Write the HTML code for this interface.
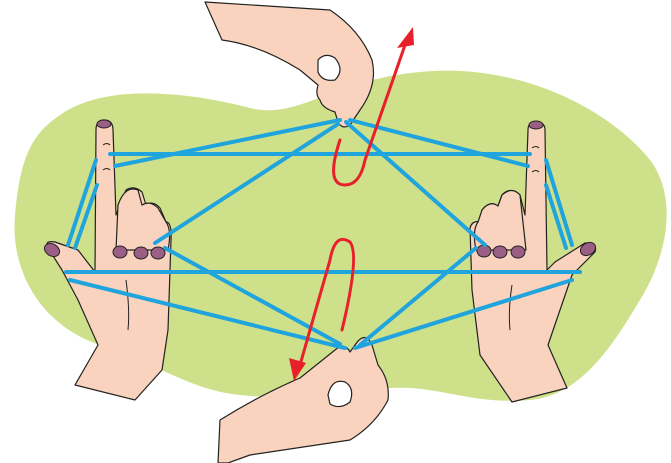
<!DOCTYPE html>
<html><head><meta charset="utf-8"><style>html,body{margin:0;padding:0;background:#fff}svg{display:block}</style></head>
<body>
<svg width="671" height="463" viewBox="0 0 671 463" xmlns="http://www.w3.org/2000/svg">
<path d="M60,115 C110,80 200,95 250,108 C300,120 330,80 420,72 C520,62 610,110 650,160 C680,200 665,260 640,300 C610,350 580,395 530,400 C470,405 440,385 390,388 C330,392 280,400 240,395 C190,390 160,365 100,345 C40,325 10,270 15,215 C20,160 30,135 60,115 Z" fill="#cfe08a"/>

<g stroke="#222" stroke-width="1.2" fill="#f9d3bd" stroke-linejoin="round">
<!-- left hand -->
<path d="M96,130 Q96,120 104,120 Q113,120 113,130 L116,215 L126,190 Q134,185 142,192 L146,205 Q153,200 160,208 L166,222 Q172,222 171,240 L168,330 L162,370 L135,400 L75,385 L98,345 L78,300 L62,270 L48,248 Q44,240 55,242 L78,250 L95,272 Z"/>
<path d="M116,250 L118,205 Q125,185 138,190 L142,205 Q150,200 158,208 L166,222 Q172,230 168,250 Z"/>
<!-- right hand -->
<path d="M528,130 Q528,122 536,122 Q545,122 545,130 L547,270 L555,262 L585,243 Q598,243 595,252 L572,275 L560,310 L548,345 L567,388 L512,402 L480,355 L472,290 L470,228 Q472,220 480,222 L482,210 Q490,200 498,206 L502,195 Q510,186 520,195 L525,215 Z"/>
<path d="M476,250 Q472,230 478,222 L482,210 Q490,200 498,206 L502,195 Q512,186 520,195 L526,250 Z"/>
<!-- top hand -->
<path d="M205,2 L330,10 Q360,30 372,60 Q378,85 360,110 L350,125 Q342,130 338,122 L335,112 Q322,108 320,100 Q315,95 318,85 L300,70 Q260,45 222,40 Z"/>
<path d="M318,60 Q325,52 335,58 Q345,70 335,80 Q322,82 318,72 Z" fill="#fff"/>
<!-- bottom hand -->
<path d="M220,420 Q260,395 300,378 L335,350 Q345,342 350,352 L355,345 Q365,330 372,345 L378,365 Q390,380 388,400 Q375,425 350,440 L250,455 L228,463 L218,463 Z"/>
<path d="M328,395 Q332,378 345,382 Q355,388 350,402 Q340,410 330,404 Z" fill="#fff"/>
</g>
<g stroke="#222" stroke-width="1" fill="none">
<path d="M103,145 q4,-3 7,0 M103,170 q4,-3 7,0 M532,148 q4,-3 7,0 M532,172 q4,-3 7,0"/>
<path d="M126,280 Q130,310 128,330 M512,285 Q508,310 510,330"/>
</g>
<g fill="#9b5f86" stroke="#222" stroke-width="1">
<ellipse cx="104" cy="124" rx="7" ry="4"/>
<ellipse cx="536" cy="125" rx="7" ry="4"/>
<ellipse cx="52" cy="250" rx="8" ry="6" transform="rotate(30 52 250)"/>
<ellipse cx="120" cy="252" rx="7" ry="6"/>
<ellipse cx="141" cy="253" rx="7" ry="6"/>
<ellipse cx="158" cy="253" rx="7" ry="6"/>
<ellipse cx="588" cy="249" rx="8" ry="6" transform="rotate(-30 588 249)"/>
<ellipse cx="484" cy="251" rx="7" ry="6"/>
<ellipse cx="500" cy="252" rx="7" ry="6"/>
<ellipse cx="518" cy="252" rx="7" ry="6"/>
</g>
<g stroke="#1fa4de" stroke-width="4" fill="none" stroke-linecap="round">
<line x1="110" y1="154" x2="530" y2="154"/>
<line x1="115" y1="166" x2="340" y2="120"/>
<line x1="528" y1="166" x2="350" y2="120"/>
<line x1="338" y1="124" x2="155" y2="243"/>
<line x1="346" y1="122" x2="485" y2="245"/>
<line x1="66" y1="272" x2="580" y2="272"/>
<line x1="70" y1="280" x2="345" y2="348"/>
<line x1="572" y1="280" x2="355" y2="348"/>
<line x1="165" y1="248" x2="340" y2="344"/>
<line x1="476" y1="248" x2="360" y2="345"/>
<line x1="68" y1="245" x2="96" y2="160"/>
<line x1="75" y1="248" x2="97" y2="185"/>
<line x1="572" y1="245" x2="546" y2="160"/>
<line x1="566" y1="248" x2="546" y2="185"/>
</g>
<g stroke="#e8202a" stroke-width="3" fill="none" stroke-linecap="round">
<path d="M340,140 Q325,185 345,185 Q360,185 365,160 L405,45"/>
<path d="M342,330 Q360,255 350,242 Q335,232 330,260 L300,365"/>
</g>
<polygon points="413,27 397,48 414,45" fill="#e8202a"/>
<polygon points="294,381 289,358 306,363" fill="#e8202a"/>
</svg>
</body></html>
